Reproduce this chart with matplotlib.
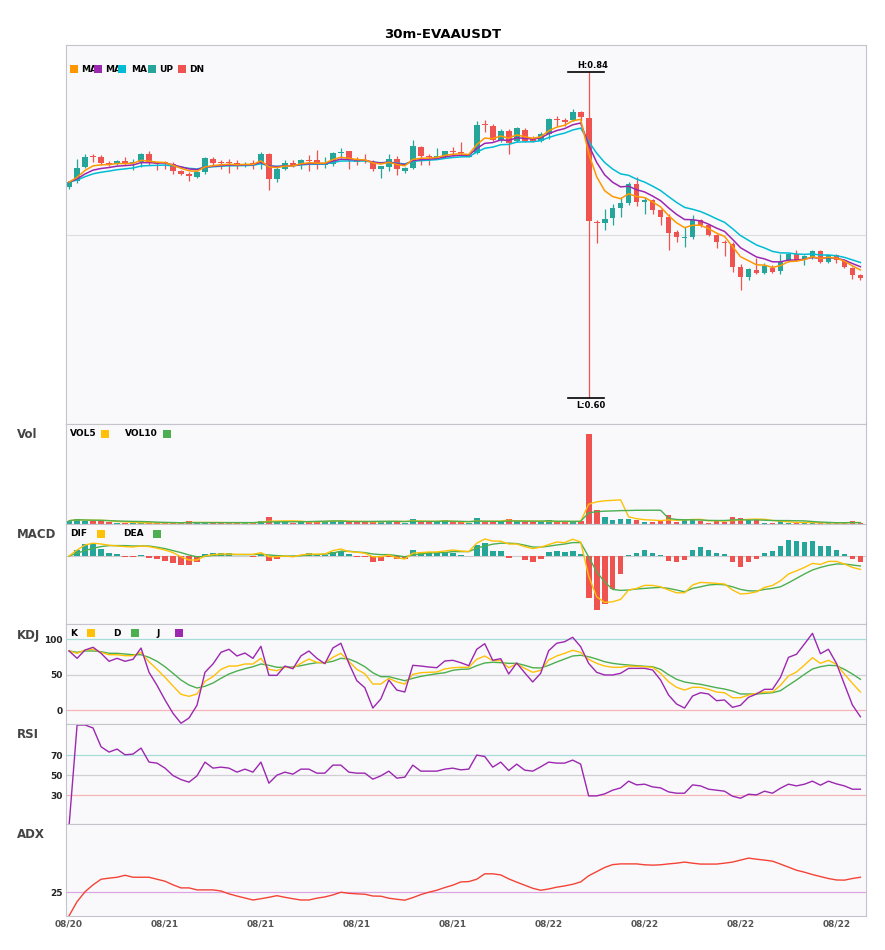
import matplotlib
matplotlib.use("Agg")
import matplotlib.pyplot as plt
from matplotlib.patches import Rectangle
import numpy as np
import pandas as pd

W, H = 885, 950
LEFT, RIGHT = 65.5, 866

UP = "#26a69a"
DN = "#ef5350"
ORANGE = "#ff9800"
PURPLE = "#9c27b0"
CYAN = "#00bcd4"
YELLOW = "#ffc107"
GREEN = "#4caf50"

tick_pos = [0, 12, 24, 36, 48, 60, 72, 84, 96]
tick_labels = ["08/20", "08/21", "08/21", "08/21", "08/21", "08/22", "08/22", "08/22", "08/22"]

opens = [
    .7551, .7593, .7698, .7778, .7769, .7724, .7722, .7745, .7728, .7735,
    .7791, .7724, .7730, .7722, .7669, .7644, .7625, .7659, .7761, .7732,
    .7732, .7727, .7715, .7727, .7735, .7796, .7612, .7683, .7730, .7710,
    .7749, .7754, .7717, .7722, .7801, .7813, .7752, .7750, .7739, .7683,
    .7698, .7759, .7673, .7690, .7845, .7773, .7774, .7771, .7815, .7805,
    .7776, .7800, .8010, .8003, .7898, .7967, .7893, .7972, .7906, .7893,
    .7942, .8050, .8037, .8045, .8106, .8060, .7290, .7287, .7323, .7396,
    .7433, .7575, .7441, .7453, .7380, .7331, .7221, .7177, .7184, .7311,
    .7270, .7196, .7144, .7130, .6964, .6890, .6944, .6919, .6959, .6934,
    .7008, .7062, .7020, .7032, .7081, .7000, .7054, .7013, .6959, .6902,
]
highs = [
    .7595, .7759, .7796, .7796, .7784, .7740, .7752, .7776, .7759, .7801,
    .7813, .7735, .7740, .7735, .7678, .7661, .7666, .7771, .7776, .7752,
    .7757, .7752, .7735, .7754, .7808, .7800, .7698, .7752, .7747, .7759,
    .7784, .7825, .7776, .7808, .7837, .7815, .7771, .7796, .7747, .7705,
    .7791, .7783, .7698, .7898, .7850, .7796, .7840, .7820, .7844, .7886,
    .7790, .8040, .8045, .8016, .7979, .7979, .7991, .7986, .7930, .7955,
    .8056, .8077, .8060, .8126, .8114, .8400, .7306, .7392, .7428, .7477,
    .7588, .7624, .7477, .7463, .7392, .7355, .7233, .7257, .7343, .7318,
    .7282, .7209, .7159, .7147, .6988, .6955, .7032, .6993, .6976, .7062,
    .7066, .7086, .7049, .7085, .7086, .7062, .7062, .7025, .6964, .6915,
]
lows = [
    .7539, .7581, .7693, .7735, .7715, .7705, .7710, .7710, .7678, .7698,
    .7710, .7678, .7686, .7649, .7642, .7595, .7617, .7649, .7710, .7686,
    .7654, .7686, .7698, .7686, .7683, .7527, .7588, .7678, .7698, .7681,
    .7666, .7681, .7693, .7705, .7766, .7686, .7715, .7730, .7673, .7620,
    .7673, .7637, .7654, .7686, .7717, .7717, .7759, .7765, .7783, .7783,
    .7771, .7796, .7955, .7888, .7881, .7796, .7881, .7881, .7881, .7881,
    .7906, .8003, .8003, .8040, .8040, .6000, .7140, .7233, .7270, .7331,
    .7416, .7411, .7355, .7350, .7270, .7086, .7147, .7110, .7172, .7257,
    .7189, .7105, .7042, .6927, .6797, .6871, .6915, .6915, .6922, .6915,
    .7000, .7008, .6976, .7025, .6993, .6993, .6993, .6956, .6878, .6871,
]
closes = [
    .7588, .7693, .7776, .7774, .7730, .7720, .7740, .7722, .7732, .7791,
    .7730, .7720, .7726, .7669, .7647, .7634, .7659, .7764, .7727, .7728,
    .7728, .7710, .7722, .7718, .7796, .7612, .7683, .7727, .7710, .7754,
    .7745, .7722, .7727, .7805, .7805, .7747, .7737, .7745, .7686, .7703,
    .7759, .7686, .7688, .7850, .7779, .7769, .7778, .7813, .7811, .7801,
    .7780, .8011, .8006, .7898, .7967, .7879, .7984, .7893, .7888, .7942,
    .8053, .8046, .8033, .8106, .8070, .7299, .7285, .7318, .7396, .7433,
    .7575, .7441, .7458, .7380, .7331, .7213, .7184, .7181, .7306, .7270,
    .7196, .7147, .7140, .6964, .6890, .6951, .6919, .6973, .6927, .7000,
    .7062, .7013, .7042, .7081, .7000, .7054, .7013, .6964, .6902, .6883,
]
volumes = [
    33, 53, 33, 33, 33, 17, 10, 13, 10, 13,
    13, 10, 13, 13, 10, 33, 10, 13, 10, 10,
    20, 10, 13, 10, 33, 73, 20, 20, 10, 20,
    33, 33, 27, 33, 33, 20, 20, 20, 20, 33,
    33, 27, 10, 53, 27, 20, 20, 43, 17, 17,
    10, 63, 17, 33, 23, 53, 27, 20, 20, 20,
    43, 20, 20, 20, 27, 903, 137, 73, 43, 53,
    53, 43, 23, 23, 27, 90, 23, 43, 43, 33,
    13, 33, 23, 73, 63, 43, 43, 13, 13, 27,
    13, 13, 10, 10, 10, 10, 10, 10, 33, 10,
]
dif = [
    0.0, .0030, .0055, .0064, .0060, .0054, .0050, .0047, .0045, .0050,
    .0047, .0039, .0030, .0017, -.0004, -.0020, -.0020, 0.0, .0007, .0010,
    .0010, .0008, .0008, .0008, .0017, -.0004, -.0004, 0.0, -.0004, .0005,
    .0010, .0009, .0010, .0027, .0035, .0022, .0019, .0014, -.0004, -.0004,
    .0005, -.0009, -.0015, .0014, .0017, .0020, .0020, .0025, .0030, .0025,
    .0022, .0064, .0085, .0075, .0074, .0060, .0060, .0047, .0037, .0044,
    .0057, .0070, .0067, .0084, .0070, -.0100, -.0204, -.0232, -.0229, -.0217,
    -.0170, -.0162, -.0147, -.0147, -.0154, -.0170, -.0184, -.0184, -.0145, -.0132,
    -.0134, -.0137, -.0140, -.0170, -.0190, -.0187, -.0179, -.0157, -.0147, -.0124,
    -.0090, -.0074, -.0057, -.0037, -.0042, -.0027, -.0027, -.0040, -.0057, -.0067,
]
dea = [
    0.0, .0014, .0027, .0039, .0047, .0052, .0052, .0052, .0050, .0050,
    .0050, .0044, .0037, .0027, .0017, .0005, -.0004, -.0002, .0004, .0005,
    .0007, .0007, .0007, .0007, .0009, .0005, .0002, 0.0, 0.0, .0002,
    .0005, .0007, .0009, .0015, .0024, .0024, .0020, .0017, .0010, .0007,
    .0007, .0002, -.0004, .0005, .0010, .0014, .0017, .0017, .0022, .0022,
    .0022, .0039, .0050, .0059, .0064, .0064, .0062, .0054, .0045, .0044,
    .0049, .0055, .0060, .0067, .0067, -.0004, -.0079, -.0130, -.0167, -.0172,
    -.0170, -.0165, -.0162, -.0159, -.0157, -.0162, -.0170, -.0179, -.0162, -.0154,
    -.0145, -.0142, -.0144, -.0154, -.0167, -.0174, -.0175, -.0167, -.0162, -.0154,
    -.0134, -.0112, -.0090, -.0070, -.0057, -.0047, -.0040, -.0040, -.0045, -.0050,
]
macd_hist = [
    0.0, .0030, .0060, .0060, .0035, .0014, .0010, -.0004, -.0007, .0004,
    -.0009, -.0014, -.0024, -.0037, -.0044, -.0044, -.0029, .0009, .0014, .0014,
    .0014, .0002, .0002, -.0004, .0009, -.0024, -.0017, .0001, -.0002, .0007,
    .0014, .0003, .0003, .0020, .0027, .0010, -.0004, -.0007, -.0029, -.0024,
    -.0003, -.0017, -.0017, .0030, .0020, .0020, .0020, .0020, .0017, .0007,
    .0002, .0055, .0065, .0025, .0025, -.0009, .0002, -.0020, -.0029, -.0017,
    .0020, .0025, .0020, .0025, .0010, -.0209, -.0269, -.0239, -.0164, -.0089,
    .0005, .0015, .0030, .0015, .0005, -.0024, -.0029, -.0019, .0030, .0045,
    .0030, .0015, .0010, -.0029, -.0054, -.0029, -.0014, .0015, .0025, .0050,
    .0080, .0075, .0070, .0075, .0050, .0050, .0030, .0010, -.0014, -.0029,
]
k_vals = [
    83.6, 80.3, 85.0, 86.0, 81.7, 78.3, 78.3, 76.9, 76.9, 81.7,
    68.4, 57.6, 46.3, 34.0, 22.2, 19.4, 22.7, 40.6, 47.2, 57.6,
    62.3, 62.3, 65.2, 65.2, 73.2, 57.6, 55.7, 60.5, 59.5, 66.1,
    72.2, 67.6, 66.6, 74.6, 80.3, 69.0, 57.6, 51.4, 36.8, 36.8,
    44.9, 39.7, 36.8, 50.5, 52.8, 53.4, 53.8, 58.1, 59.9, 60.5,
    60.5, 71.8, 76.5, 69.9, 69.9, 59.9, 65.6, 59.0, 53.4, 56.2,
    70.8, 76.5, 80.3, 84.6, 81.7, 71.8, 66.1, 62.3, 60.5, 60.5,
    62.3, 61.8, 61.3, 60.5, 52.0, 40.1, 32.1, 28.3, 32.1, 32.1,
    29.3, 25.5, 24.5, 17.4, 17.4, 21.2, 23.6, 25.5, 25.5, 35.0,
    48.2, 53.8, 63.7, 74.1, 66.1, 70.4, 64.7, 51.0, 37.8, 25.5,
]
d_vals = [
    83.6, 81.7, 83.6, 83.6, 82.6, 80.3, 80.3, 79.3, 78.3, 78.3,
    74.6, 69.0, 61.3, 52.0, 42.5, 35.4, 31.2, 33.6, 38.2, 44.9,
    51.0, 55.2, 58.5, 61.3, 65.2, 63.3, 60.5, 60.5, 61.0, 62.8,
    65.2, 67.0, 67.0, 69.0, 73.2, 72.2, 67.6, 61.3, 52.8, 47.2,
    47.2, 44.3, 41.5, 44.9, 47.6, 49.6, 51.4, 52.8, 56.2, 57.6,
    58.0, 62.8, 66.6, 67.6, 67.0, 66.1, 66.1, 63.3, 59.9, 59.5,
    63.3, 68.0, 72.2, 76.5, 77.5, 75.5, 72.2, 68.4, 66.1, 64.7,
    63.7, 62.8, 61.9, 61.3, 57.6, 50.0, 43.5, 39.7, 37.8, 36.4,
    34.0, 31.6, 29.7, 26.9, 22.7, 22.7, 22.7, 23.6, 24.5, 27.4,
    35.0, 42.5, 50.5, 58.1, 61.3, 63.3, 62.8, 57.6, 51.0, 43.5,
]
j_vals = [
    83.6, 73.2, 85.0, 88.8, 80.3, 69.0, 73.2, 69.0, 71.8, 87.8,
    53.4, 35.0, 14.2, -4.7, -18.8, -11.3, 6.7, 53.4, 65.2, 81.7,
    86.0, 76.5, 80.7, 73.2, 90.2, 49.1, 49.1, 62.3, 58.5, 76.5,
    83.6, 73.2, 65.6, 87.8, 94.5, 66.1, 41.5, 31.6, 2.8, 15.6,
    42.5, 28.3, 25.5, 63.3, 62.3, 60.9, 59.9, 69.4, 70.4, 67.0,
    62.8, 86.0, 93.9, 70.4, 72.7, 51.0, 66.6, 52.8, 39.7, 52.0,
    84.0, 94.5, 96.7, 103.0, 89.7, 66.1, 53.4, 49.6, 49.6, 52.0,
    59.0, 59.0, 59.0, 56.7, 42.5, 21.2, 8.5, 2.8, 19.8, 24.5,
    22.7, 13.2, 14.2, 3.8, 6.7, 18.0, 22.7, 29.3, 29.3, 46.3,
    74.6, 78.9, 93.5, 108.6, 79.7, 86.0, 66.1, 36.4, 7.1, -9.5,
]
rsi_vals = [
    0.0, 100.0, 100.0, 97.0, 78.3, 73.0, 76.0, 70.3, 71.0, 77.0,
    63.0, 62.0, 57.0, 49.6, 45.6, 43.0, 49.3, 63.0, 57.0, 58.0,
    57.0, 53.0, 56.0, 53.0, 63.0, 42.0, 50.0, 53.0, 51.0, 56.0,
    56.0, 52.0, 52.0, 60.0, 60.0, 53.0, 52.0, 52.0, 46.0, 49.3,
    54.0, 47.0, 48.0, 60.0, 54.0, 54.0, 54.0, 56.0, 57.0, 55.3,
    56.0, 70.0, 68.6, 58.0, 63.0, 54.6, 61.0, 55.0, 54.0, 58.3,
    63.0, 62.0, 62.0, 65.0, 61.0, 29.3, 29.3, 31.3, 35.0, 37.3,
    44.0, 40.3, 41.0, 38.3, 37.3, 33.3, 32.0, 32.0, 40.3, 39.3,
    36.0, 35.0, 34.0, 29.0, 27.0, 31.0, 30.3, 34.0, 32.0, 37.0,
    41.0, 39.3, 41.0, 44.0, 40.0, 44.0, 41.3, 39.3, 36.0, 36.0,
]
adx_vals = [
    12.0, 19.8, 25.3, 29.1, 32.2, 32.8, 33.3, 34.4, 33.3, 33.3,
    33.3, 32.2, 31.1, 29.1, 27.4, 27.4, 26.3, 26.3, 26.3, 25.7,
    24.1, 22.9, 21.8, 20.7, 21.4, 22.2, 23.1, 22.2, 21.4, 20.7,
    20.7, 21.7, 22.4, 23.5, 25.0, 24.4, 24.1, 23.9, 22.9, 22.8,
    21.7, 21.1, 20.6, 22.0, 23.7, 25.0, 26.1, 27.6, 28.9, 30.7,
    30.9, 32.2, 35.2, 35.2, 34.6, 32.4, 30.6, 28.9, 27.2, 26.1,
    26.8, 27.8, 28.5, 29.4, 30.7, 34.1, 36.4, 38.7, 40.3, 40.7,
    40.7, 40.7, 40.2, 40.0, 40.2, 40.7, 41.1, 41.7, 41.1, 40.6,
    40.6, 40.6, 41.1, 41.7, 42.8, 43.9, 43.3, 42.8, 42.2, 40.6,
    38.9, 37.2, 36.1, 34.8, 33.7, 32.6, 31.8, 31.7, 32.6, 33.3,
]

o = np.array(opens)
h = np.array(highs)
l = np.array(lows)
c = np.array(closes)
x = np.arange(len(c))
cols = np.where(c >= o, UP, DN)

# moving averages (EMA 5/8/13 on close, SMA 5/10 on volume)
close_s = pd.Series(closes)
ma_fast = close_s.ewm(span=5, adjust=False).mean()
ma_mid = close_s.ewm(span=8, adjust=False).mean()
ma_slow = close_s.ewm(span=13, adjust=False).mean()
vol_s = pd.Series(volumes)
vol5 = vol_s.rolling(5, min_periods=1).mean()
vol10 = vol_s.rolling(10, min_periods=1).mean()


def box(top, bottom):
    return [LEFT / W, 1 - bottom / H, (RIGHT - LEFT) / W, (bottom - top) / H]


def style(ax):
    ax.set_facecolor("#f9f9fb")
    for s in ax.spines.values():
        s.set_color("#c4c4cc")
        s.set_linewidth(0.8)
    ax.set_xlim(-0.45, 99.7)
    ax.tick_params(length=0, labelbottom=False, labelleft=False)


def left_ticks(ax, vals):
    ax.set_yticks(vals)
    ax.set_yticklabels([str(v) for v in vals])
    ax.tick_params(axis="y", labelleft=True, labelsize=6.5, pad=2, labelcolor="#222222")
    for t in ax.get_yticklabels():
        t.set_fontweight("bold")


def fig_text(px, py, s, **kw):
    fig.text(px / W, 1 - py / H, s, va="center", fontweight="bold", **kw)


def fig_box(px, py, color):
    fig.add_artist(Rectangle(((px - 4) / W, 1 - (py + 4) / H), 8 / W, 8 / H,
                             transform=fig.transFigure, facecolor=color,
                             edgecolor="none", zorder=5))


fig = plt.figure(figsize=(W / 100, H / 100), dpi=100)

ax_main = fig.add_axes(box(45, 424))
ax_vol = fig.add_axes(box(424, 524))
ax_macd = fig.add_axes(box(524, 624))
ax_kdj = fig.add_axes(box(624, 724))
ax_rsi = fig.add_axes(box(724, 824))
ax_adx = fig.add_axes(box(824, 915.7))
for a in [ax_main, ax_vol, ax_macd, ax_kdj, ax_rsi, ax_adx]:
    style(a)

# candles
ax_main.set_ylim(0.5809, 0.8596)
ax_main.set_yticks([0.72])
ax_main.grid(axis="y", color="#dddddd", lw=0.8)
ax_main.set_axisbelow(True)
ax_main.vlines(x, l, h, colors=cols, lw=0.9, zorder=2)
body_h = np.maximum(np.abs(c - o), 0.0008)
ax_main.bar(x, body_h, 0.72, bottom=np.minimum(o, c), color=cols, zorder=2)
ax_main.plot(x, ma_slow, color=CYAN, lw=1.1, zorder=3)
ax_main.plot(x, ma_mid, color=PURPLE, lw=1.1, zorder=3)
ax_main.plot(x, ma_fast, color=ORANGE, lw=1.1, zorder=3)

hi = int(np.argmax(h))
lo = int(np.argmin(l))
ax_main.plot([hi - 2.56, hi + 1.94], [h[hi], h[hi]], color="black", lw=1.2, zorder=4)
ax_main.annotate("H:%.2f" % h[hi], (hi + 0.45, h[hi]), xytext=(0, 1.5),
                 textcoords="offset points", ha="center", va="bottom",
                 fontsize=6, fontweight="bold")
ax_main.plot([lo - 2.56, lo + 1.94], [l[lo], l[lo]], color="black", lw=1.2, zorder=4)
ax_main.annotate("L:%.2f" % l[lo], (lo + 0.3, l[lo]), xytext=(0, -2.5),
                 textcoords="offset points", ha="center", va="top",
                 fontsize=6, fontweight="bold")

# volume
ax_vol.set_ylim(0, 1000)
ax_vol.bar(x, volumes, 0.72, color=cols)
ax_vol.plot(x, vol5, color=YELLOW, lw=1.0)
ax_vol.plot(x, vol10, color=GREEN, lw=1.0)

# macd
ax_macd.set_ylim(-0.034, 0.016)
ax_macd.axhline(0, color="#cccccc", lw=0.8, zorder=1)
hist_cols = [UP if v >= 0 else DN for v in macd_hist]
ax_macd.bar(x, macd_hist, 0.72, color=hist_cols, zorder=2)
ax_macd.plot(x, dea, color=GREEN, lw=1.0, zorder=3)
ax_macd.plot(x, dif, color=YELLOW, lw=1.0, zorder=3)

# kdj
ax_kdj.set_ylim(-19.8, 121.8)
ax_kdj.axhline(100, color="#a8dcd8", lw=0.9, zorder=1)
ax_kdj.axhline(50, color="#cfcfd4", lw=0.9, zorder=1)
ax_kdj.axhline(0, color="#f6b4b4", lw=0.9, zorder=1)
ax_kdj.plot(x, d_vals, color=GREEN, lw=1.0)
ax_kdj.plot(x, k_vals, color=YELLOW, lw=1.0)
ax_kdj.plot(x, j_vals, color=PURPLE, lw=1.0)
left_ticks(ax_kdj, [0, 50, 100])

# rsi
ax_rsi.set_ylim(1.3, 101)
ax_rsi.axhline(70, color="#a8dcd8", lw=0.9, zorder=1)
ax_rsi.axhline(50, color="#cfcfd4", lw=0.9, zorder=1)
ax_rsi.axhline(30, color="#f6b4b4", lw=0.9, zorder=1)
ax_rsi.plot(x, rsi_vals, color=PURPLE, lw=1.0)
left_ticks(ax_rsi, [30, 50, 70])

# adx
ax_adx.set_ylim(12, 62.8)
ax_adx.axhline(25, color="#dca6e2", lw=0.9, zorder=1)
ax_adx.plot(x, adx_vals, color="#f44336", lw=1.0)
left_ticks(ax_adx, [25])
ax_adx.set_xticks(tick_pos)
ax_adx.set_xticklabels(tick_labels)
ax_adx.tick_params(axis="x", labelbottom=True, labelsize=6.5, pad=3, labelcolor="#555555")
for t in ax_adx.get_xticklabels():
    t.set_fontweight("bold")

# title, panel names, legends
fig_text(443, 34, "30m-EVAAUSDT", ha="center", fontsize=9.5)
for name, py in [("Vol", 435), ("MACD", 535), ("KDJ", 635), ("RSI", 735), ("ADX", 835)]:
    fig_text(17, py, name, ha="left", fontsize=8.5, color="#444444")

for px, lab in [(81, "MA"), (105, "MA"), (131, "MA"), (159, "UP"), (189, "DN")]:
    fig_text(px, 69, lab, ha="left", fontsize=6.5)
for px, col in [(74, ORANGE), (98, PURPLE), (122, CYAN), (152, UP), (182, DN)]:
    fig_box(px, 69, col)

fig_text(70, 434, "VOL5", ha="left", fontsize=6.5)
fig_text(125, 434, "VOL10", ha="left", fontsize=6.5)
fig_box(105, 434, YELLOW)
fig_box(167, 434, GREEN)

fig_text(70, 534, "DIF", ha="left", fontsize=6.5)
fig_text(123, 534, "DEA", ha="left", fontsize=6.5)
fig_box(101, 534, YELLOW)
fig_box(157, 534, GREEN)

fig_text(70, 633, "K", ha="left", fontsize=6.5)
fig_text(113, 633, "D", ha="left", fontsize=6.5)
fig_text(156, 633, "J", ha="left", fontsize=6.5)
fig_box(91, 633, YELLOW)
fig_box(135, 633, GREEN)
fig_box(179, 633, PURPLE)

fig.savefig("out.png", dpi=100)
